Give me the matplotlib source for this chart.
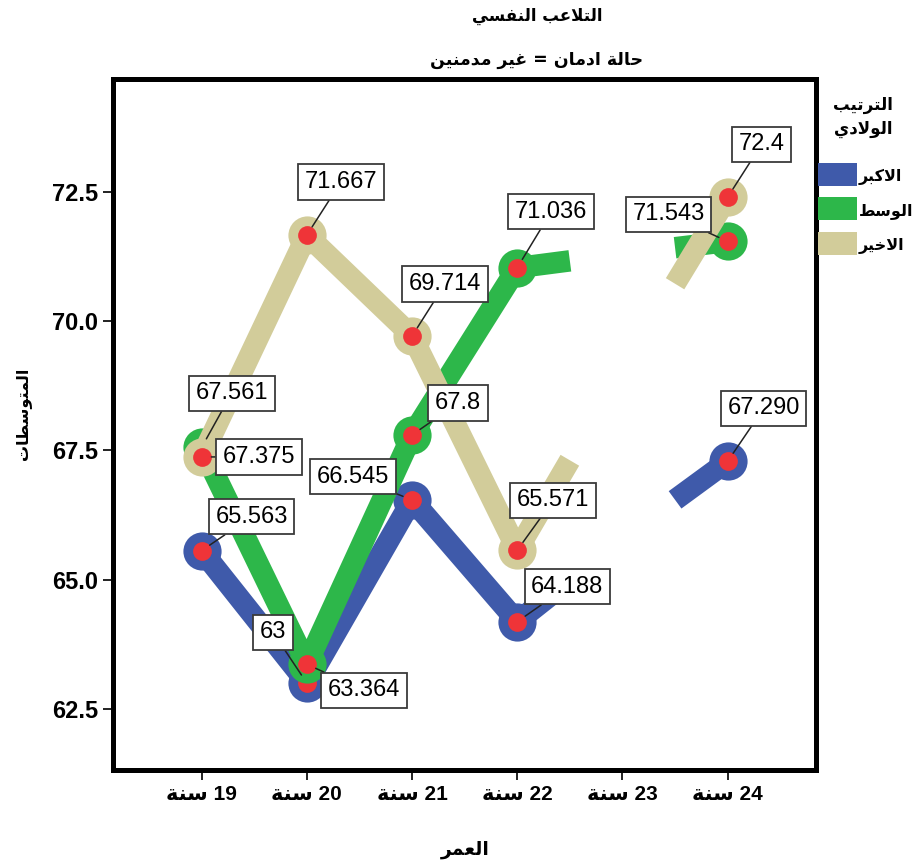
import matplotlib
matplotlib.use('Agg')
import matplotlib.pyplot as plt
from matplotlib.patches import Rectangle

# Mean scores by age and birth order (non-addicted group)
ages = [19, 20, 21, 22, 23, 24]
age_labels = ['19 سنة', '20 سنة', '21 سنة', '22 سنة', '23 سنة', '24 سنة']
groups = ['الاكبر', 'الوسط', 'الاخير']
colors = ['#3F5AAA', '#2DB74A', '#D2CC9A']

eldest = [65.563, 63, 66.545, 64.188, None, 67.290]
middle = [67.561, 63.364, 67.8, 71.036, None, 71.543]
youngest = [67.375, 71.667, 69.714, 65.571, None, 72.4]
eldest_text = ['65.563', '63', '66.545', '64.188', '', '67.290']
middle_text = ['67.561', '63.364', '67.8', '71.036', '', '71.543']
youngest_text = ['67.375', '71.667', '69.714', '65.571', '', '72.4']
# age 23 means are not marked, only the half segments leading to them show
age23_hidden = [65.8, 71.3, 69.05]

series = [eldest, middle, youngest]
series_text = [eldest_text, middle_text, youngest_text]

# label offsets in pixels (box centre relative to the point)
offsets = [
    [(50, 34), (-34, 51), (-59, 23), (50, 35), None, (36, 53)],
    [(30, 54), (57, -26), (46, 32), (34, 56), None, (-59, 27)],
    [(57, 0), (34, 53), (33, 52), (36, 50), None, (34, 53)],
]

title = 'التلاعب النفسي'
subtitle = 'حالة ادمان = غير مدمنين'
legend_title = ['الترتيب', 'الولادي']
x_title = 'العمر'
y_title = 'المتوسطات'

# --- minimal arabic shaping (matplotlib has no bidi/joining support) ---
# isolated, final, initial, medial
FORMS = {
    'ا': ('\uFE8D', '\uFE8E', None, None),
    'ب': ('\uFE8F', '\uFE90', '\uFE91', '\uFE92'),
    'ة': ('\uFE93', '\uFE94', None, None),
    'ت': ('\uFE95', '\uFE96', '\uFE97', '\uFE98'),
    'ح': ('\uFEA1', '\uFEA2', '\uFEA3', '\uFEA4'),
    'خ': ('\uFEA5', '\uFEA6', '\uFEA7', '\uFEA8'),
    'د': ('\uFEA9', '\uFEAA', None, None),
    'ر': ('\uFEAD', '\uFEAE', None, None),
    'س': ('\uFEB1', '\uFEB2', '\uFEB3', '\uFEB4'),
    'ط': ('\uFEC1', '\uFEC2', '\uFEC3', '\uFEC4'),
    'ع': ('\uFEC9', '\uFECA', '\uFECB', '\uFECC'),
    'غ': ('\uFECD', '\uFECE', '\uFECF', '\uFED0'),
    'ف': ('\uFED1', '\uFED2', '\uFED3', '\uFED4'),
    'ك': ('\uFED9', '\uFEDA', '\uFEDB', '\uFEDC'),
    'ل': ('\uFEDD', '\uFEDE', '\uFEDF', '\uFEE0'),
    'م': ('\uFEE1', '\uFEE2', '\uFEE3', '\uFEE4'),
    'ن': ('\uFEE5', '\uFEE6', '\uFEE7', '\uFEE8'),
    'و': ('\uFEED', '\uFEEE', None, None),
    'ي': ('\uFEF1', '\uFEF2', '\uFEF3', '\uFEF4'),
    'لا': ('\uFEFB', '\uFEFC', None, None),
}


def shape(text):
    chars = []
    i = 0
    while i < len(text):
        if text[i] == 'ل' and text[i + 1:i + 2] == 'ا':
            chars.append('لا')
            i += 2
        else:
            chars.append(text[i])
            i += 1
    out = []
    for i, c in enumerate(chars):
        if c not in FORMS:
            out.append(c)
            continue
        prev = chars[i - 1] if i > 0 else None
        nxt = chars[i + 1] if i + 1 < len(chars) else None
        join_prev = prev in FORMS and FORMS[prev][2] is not None
        join_next = nxt in FORMS and FORMS[c][2] is not None
        iso, fin, ini, med = FORMS[c]
        if join_prev and join_next:
            out.append(med)
        elif join_prev:
            out.append(fin)
        elif join_next:
            out.append(ini)
        else:
            out.append(iso)
    return out


def ar(text):
    runs = []
    for g in shape(text):
        ltr = g.isascii() and (g.isalnum() or g == '.')
        if runs and runs[-1][0] and ltr:
            runs[-1][1].append(g)
        else:
            runs.append([ltr, [g]])
    return ''.join(''.join(r[1]) for r in reversed(runs))


FONT = ['Liberation Sans', 'DejaVu Sans']
ARFONT = ['DejaVu Sans']
plt.rcParams['font.family'] = FONT

fig = plt.figure(figsize=(9.16, 8.63), dpi=100)
ax = fig.add_axes([0.1239, 0.1078, 0.7664, 0.8007])

for k, vals in enumerate(series):
    c = colors[k]
    xs = [a for a, v in zip(ages, vals) if v is not None]
    ys = [v for v in vals if v is not None]
    # connected run 19..22
    ax.plot(ages[:4], vals[:4], color=c, lw=15.5, solid_capstyle='butt',
            solid_joinstyle='round', zorder=2 + k * 3)
    # half segments towards the unmarked age-23 mean
    ax.plot([22, 22.5], [vals[3], (vals[3] + age23_hidden[k]) / 2], color=c,
            lw=15.5, solid_capstyle='butt', zorder=2 + k * 3)
    ax.plot([24, 23.5], [vals[5], (vals[5] + age23_hidden[k]) / 2], color=c,
            lw=15.5, solid_capstyle='butt', zorder=2 + k * 3)
    ax.plot(xs, ys, 'o', ms=27.5, color=c, mec='none', zorder=3 + k * 3)
    ax.plot(xs, ys, 'o', ms=13.5, color='#EF3438', mec='none', zorder=4 + k * 3)

for k, vals in enumerate(series):
    for a, v, t, off in zip(ages, vals, series_text[k], offsets[k]):
        if v is None:
            continue
        ax.annotate(t, xy=(a, v), xytext=off, textcoords='offset pixels',
                    ha='center', va='center', fontsize=17, color='black',
                    bbox=dict(boxstyle='square,pad=0.28', fc='white',
                              ec='#3a3a3a', lw=1.3),
                    arrowprops=dict(arrowstyle='-', color='#222222', lw=1.1,
                                    shrinkA=0, shrinkB=7),
                    zorder=20)

ax.set_xlim(18.162, 24.835)
ax.set_ylim(61.32, 74.686)
ax.set_xticks(ages)
ax.set_xticklabels([ar(s) for s in age_labels], fontsize=15, fontweight='bold',
                   family=FONT)
yt = [62.5, 65.0, 67.5, 70.0, 72.5]
ax.set_yticks(yt)
ax.set_yticklabels(['%.1f' % v for v in yt], fontsize=17, fontweight='bold')
ax.tick_params(axis='both', direction='out', length=7, width=1.4, color='#222222', pad=4)
for s in ax.spines.values():
    s.set_linewidth(3.6)
    s.set_color('black')

fig.text(537 / 916, 1 - 16 / 863, ar(title), ha='center', va='center',
         fontsize=12, fontweight='bold', family=ARFONT)
fig.text(537 / 916, 1 - 60 / 863, ar(subtitle), ha='center', va='center',
         fontsize=12.5, fontweight='bold', family=ARFONT)
fig.text(465 / 916, 1 - 849 / 863, ar(x_title), ha='center', va='center',
         fontsize=13.5, fontweight='bold', family=ARFONT)
fig.text(23 / 916, 1 - 414 / 863, ar(y_title), ha='center', va='center',
         rotation=90, fontsize=11.5, fontweight='bold', family=ARFONT)

# legend drawn by hand on the right side
fig.text(863 / 916, 1 - 105 / 863, ar(legend_title[0]), ha='center', va='center',
         fontsize=12, fontweight='bold', family=ARFONT)
fig.text(863 / 916, 1 - 129 / 863, ar(legend_title[1]), ha='center', va='center',
         fontsize=12, fontweight='bold', family=ARFONT)
for k, name in enumerate(groups):
    top = 163 + k * 34.5
    fig.patches.append(Rectangle((818 / 916, 1 - (top + 23) / 863), 39 / 916,
                                 23 / 863, transform=fig.transFigure,
                                 color=colors[k], lw=0))
    fig.text(859 / 916, 1 - (top + 14) / 863, ar(name), ha='left', va='center',
             fontsize=11.5, fontweight='bold', family=ARFONT)

fig.savefig('out.png', dpi=100)
